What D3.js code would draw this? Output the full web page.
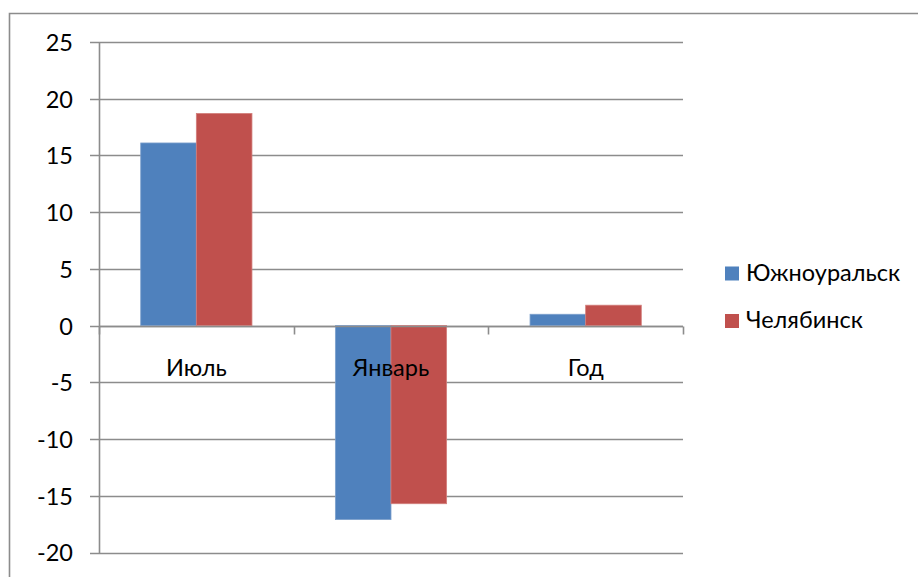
<!DOCTYPE html>
<html>
<head>
<meta charset="utf-8">
<script src="https://cdn.jsdelivr.net/npm/d3@7/dist/d3.min.js"></script>
<style>
  html, body { margin: 0; padding: 0; background: #fff; }
  svg { display: block; }
  text { font-family: Lato, "Open Sans", sans-serif; fill: #000; }
</style>
</head>
<body>
<svg id="chart" width="918" height="577"></svg>
<script>
// Mean air temperature, °C
const categories = ["Июль", "Январь", "Год"];
const seriesNames = ["Южноуральск", "Челябинск"];
const southUralsk = [16.1, -17.1, 1.0];
const chelyabinsk = [18.7, -15.7, 1.8];
const yTicks = [25, 20, 15, 10, 5, 0, -5, -10, -15, -20];
const colors = ["#4F81BD", "#C0504D"];
const edgeColors = ["#7DA0CC", "#D27E7B"];

const FONT = 23.5;
const svg = d3.select("#chart");
const W = 918, H = 577;
const plot = { left: 99, right: 683, top: 42, bottom: 552.5 };

// Outer chart frame (left and top edges visible)
svg.append("path")
  .attr("d", `M9.5,${H} V13.5 H${W}`)
  .attr("fill", "none").attr("stroke", "#8c8c8c").attr("stroke-width", 1.6);

const y = d3.scaleLinear().domain([-20, 25]).range([plot.bottom, plot.top]);
const x0 = d3.scaleBand().domain(categories).range([plot.left, plot.right]).paddingInner(0).paddingOuter(0);
// Bars fill 2/(2+1.5) of each band, centred
const groupW = x0.bandwidth() * 2 / 3.5;
const x1 = d3.scaleBand().domain(d3.range(seriesNames.length)).range([0, groupW]).padding(0);

// Horizontal gridlines
svg.append("g").selectAll("line").data(yTicks).join("line")
  .attr("x1", plot.left - 9).attr("x2", plot.right)
  .attr("y1", d => Math.round(y(d)) + 0.5).attr("y2", d => Math.round(y(d)) + 0.5)
  .attr("stroke", "#8c8c8c").attr("stroke-width", 1.6);

// Y axis labels (plain hyphen for negatives)
const yAxis = d3.axisLeft(y).tickValues(yTicks).tickSize(0).tickPadding(0).tickFormat(d => String(d));
const gy = svg.append("g").attr("transform", `translate(73,0)`).call(yAxis);
gy.select(".domain").remove();
gy.selectAll("text").attr("font-family", "Lato, 'Open Sans', sans-serif").attr("font-size", FONT).attr("fill", "#000").attr("dy", "0.36em");

// Vertical axis line
svg.append("line")
  .attr("x1", plot.left + 0.5).attr("x2", plot.left + 0.5)
  .attr("y1", plot.top).attr("y2", plot.bottom + 0.5)
  .attr("stroke", "#8c8c8c").attr("stroke-width", 1.6);

// Bars
const series = [southUralsk, chelyabinsk];
const groups = svg.append("g").selectAll("g").data(categories).join("g")
  .attr("transform", c => `translate(${x0(c) + (x0.bandwidth() - groupW) / 2},0)`);
groups.selectAll("rect").data((c, i) => series.map((s, k) => ({ k, v: s[i] }))).join("rect")
  .attr("x", d => x1(d.k))
  .attr("width", x1.bandwidth())
  .attr("y", d => y(Math.max(0, d.v)))
  .attr("height", d => Math.abs(y(d.v) - y(0)))
  .attr("fill", d => colors[d.k])
  .attr("stroke", d => edgeColors[d.k]).attr("stroke-width", 0.8);

// Category axis at zero
const zeroY = Math.round(y(0)) + 0.5;
svg.append("line")
  .attr("x1", plot.left).attr("x2", plot.right)
  .attr("y1", zeroY).attr("y2", zeroY)
  .attr("stroke", "#8c8c8c").attr("stroke-width", 1.6);
const boundaries = categories.map(c => x0(c)).concat([plot.right]);
svg.append("g").selectAll("line").data(boundaries).join("line")
  .attr("x1", d => Math.round(d) + 0.5).attr("x2", d => Math.round(d) + 0.5)
  .attr("y1", zeroY).attr("y2", zeroY + 8)
  .attr("stroke", "#8c8c8c").attr("stroke-width", 1.6);

// Category labels
svg.append("g").selectAll("text").data(categories).join("text")
  .attr("x", c => x0(c) + x0.bandwidth() / 2)
  .attr("y", 376)
  .attr("text-anchor", "middle")
  .attr("font-size", FONT)
  .text(c => c);

// Legend
const legend = svg.append("g").selectAll("g").data(seriesNames).join("g")
  .attr("transform", (d, i) => `translate(725,${266.5 + i * 47.5})`);
legend.append("rect").attr("width", 14).attr("height", 14).attr("fill", (d, i) => colors[i]);
legend.append("text").attr("x", 21).attr("y", 14).attr("font-size", FONT).text(d => d);
</script>
</body>
</html>
